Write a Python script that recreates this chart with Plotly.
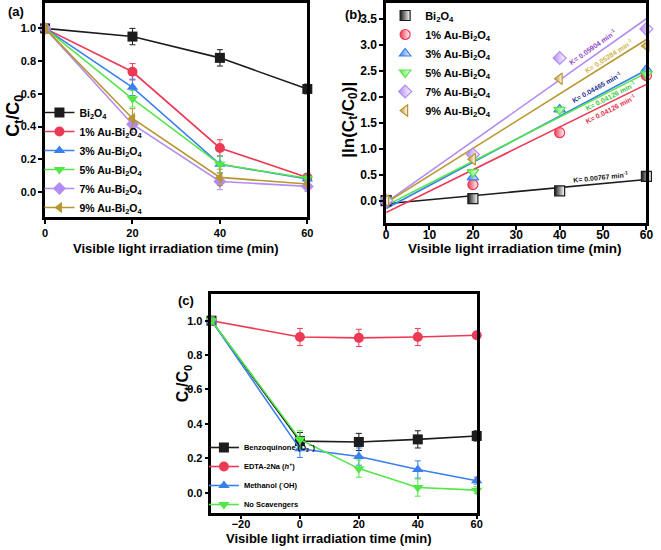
import numpy as np
import plotly.graph_objects as go

# ---------------- data ----------------
time_a = [0, 20, 40, 60]
names_a = ["Bi<sub>2</sub>O<sub>4</sub>", "1% Au-Bi<sub>2</sub>O<sub>4</sub>", "3% Au-Bi<sub>2</sub>O<sub>4</sub>",
           "5% Au-Bi<sub>2</sub>O<sub>4</sub>", "7% Au-Bi<sub>2</sub>O<sub>4</sub>", "9% Au-Bi<sub>2</sub>O<sub>4</sub>"]
ct_bi2o4 = [1.0, 0.95, 0.82, 0.63]
ct_au1 = [1.0, 0.735, 0.27, 0.09]
ct_au3 = [1.0, 0.64, 0.17, 0.08]
ct_au5 = [1.0, 0.57, 0.17, 0.085]
ct_au7 = [1.0, 0.415, 0.065, 0.035]
ct_au9 = [1.0, 0.45, 0.09, 0.05]
err_bi2o4 = [0.01, 0.05, 0.05, 0.03]
err_au1 = [0.01, 0.05, 0.05, 0.02]
err_au3 = [0.01, 0.05, 0.05, 0.02]
err_au5 = [0.01, 0.05, 0.05, 0.02]
err_au7 = [0.01, 0.05, 0.05, 0.03]
err_au9 = [0.01, 0.06, 0.05, 0.02]

time_b = [0, 20, 40, 60]
ln_bi2o4 = [0.0, 0.04, 0.19, 0.47]
ln_au1 = [0.0, 0.31, 1.31, 2.41]
ln_au3 = [0.0, 0.45, 1.76, 2.53]
ln_au5 = [0.0, 0.55, 1.75, 2.44]
ln_au7 = [0.0, 0.89, 2.75, 3.31]
ln_au9 = [0.0, 0.80, 2.35, 2.98]
k_labels = ["K= 0.00767 min<sup>-1</sup>", "K= 0.04126 min<sup>-1</sup>", "K= 0.04465 min<sup>-1</sup>",
            "K= 0.04126 min<sup>-1</sup>", "K= 0.05904 min<sup>-1</sup>", "K= 0.05284 min<sup>-1</sup>"]
k_label_x = [49.5, 51.7, 48.6, 51.7, 47.6, 51.3]
k_label_y = [0.45, 1.76, 2.19, 2.01, 2.96, 2.79]
k_label_angle = [-6, -27, -29, -27, -35, -33]

time_c = [-30, 0, 20, 40, 60]
names_c = ["Benzoquinone (O<sub>2</sub><sup>·-</sup>)", "EDTA-2Na (<i>h</i><sup>+</sup>)",
           "Methanol (<sup>·</sup>OH)", "No Scavengers"]
ct_bq = [1.0, 0.30, 0.295, 0.31, 0.33]
ct_edta = [1.0, 0.905, 0.90, 0.905, 0.915]
ct_meoh = [1.0, 0.255, 0.21, 0.135, 0.07]
ct_none = [1.0, 0.31, 0.14, 0.03, 0.015]
err_bq = [0.02, 0.05, 0.05, 0.05, 0.03]
err_edta = [0.02, 0.05, 0.05, 0.05, 0.02]
err_meoh = [0.02, 0.05, 0.05, 0.05, 0.02]
err_none = [0.02, 0.05, 0.05, 0.05, 0.02]

# ---------------- styles ----------------
colors6 = ["#1c1c1c", "#ec3a56", "#3a7ff0", "#52e646", "#b38cf2", "#b8962e"]
text_colors = ["#111111", "#e0304a", "#23308f", "#3cc83c", "#8f45c8", "#d2b44c"]
symbols6 = ["square", "circle", "triangle-up", "triangle-down", "diamond", "triangle-left"]
FONT = "Liberation Sans, Arial, sans-serif"

fig = go.Figure()

# ---------- panel (a) ----------
series_a = [ct_bi2o4, ct_au1, ct_au3, ct_au5, ct_au7, ct_au9]
errs_a = [err_bi2o4, err_au1, err_au3, err_au5, err_au7, err_au9]
for name, y, e, c, s in zip(names_a, series_a, errs_a, colors6, symbols6):
    fig.add_trace(go.Scatter(
        x=time_a, y=y, name=name, mode="lines+markers", xaxis="x", yaxis="y",
        line=dict(color=c, width=1.6), marker=dict(symbol=s, size=10, color=c),
        error_y=dict(type="data", array=e, color=c, thickness=1, width=3),
        cliponaxis=False, legend="legend"))

# ---------- panel (b) ----------
series_b = [ln_bi2o4, ln_au1, ln_au3, ln_au5, ln_au7, ln_au9]
tb = np.array(time_b, dtype=float)
for name, y, c, s in zip(names_a, series_b, colors6, symbols6):
    slope, icpt = np.polyfit(tb, np.array(y), 1)
    xf = np.array([tb.min(), tb.max()])
    fig.add_trace(go.Scatter(
        x=xf, y=slope * xf + icpt, mode="lines", xaxis="x2", yaxis="y2",
        line=dict(color=c, width=1.6), showlegend=False, cliponaxis=False, hoverinfo="skip"))
for name, y, c, s in zip(names_a, series_b, colors6, symbols6):
    fig.add_trace(go.Scatter(
        x=time_b, y=y, name=name, mode="markers", xaxis="x2", yaxis="y2",
        marker=dict(symbol=s, size=10, color=c, line=dict(color=c, width=1.2),
                    gradient=dict(type="horizontal", color="white")),
        cliponaxis=False, legend="legend2"))

# ---------- panel (c) ----------
series_c = [ct_bq, ct_edta, ct_meoh, ct_none]
errs_c = [err_bq, err_edta, err_meoh, err_none]
for name, y, e, c, s in zip(names_c, series_c, errs_c, colors6[:4], symbols6[:4]):
    fig.add_trace(go.Scatter(
        x=time_c, y=y, name=name, mode="lines+markers", xaxis="x3", yaxis="y3",
        line=dict(color=c, width=1.6), marker=dict(symbol=s, size=10, color=c),
        error_y=dict(type="data", array=e, color=c, thickness=1, width=3),
        cliponaxis=False, legend="legend3"))

W, H = 661, 550
def px(x):
    return x / W
def py(y):
    return 1 - y / H

axis_common = dict(showline=True, linewidth=2.6, linecolor="black", mirror=True,
                   ticks="outside", ticklen=4, tickwidth=2, tickcolor="black",
                   showgrid=False, zeroline=False, fixedrange=True)

fig.update_layout(
    width=W, height=H, margin=dict(l=0, r=0, t=0, b=0),
    paper_bgcolor="white", plot_bgcolor="white",
    font=dict(family=FONT, color="black"),
    xaxis=dict(domain=[px(42.7), px(309)], range=[0, 60], tickvals=[0, 20, 40, 60],
               tickfont=dict(size=11, weight="bold"), anchor="y", **axis_common),
    yaxis=dict(domain=[py(216.7), py(3)], range=[-0.15, 1.155], tickvals=[0, 0.2, 0.4, 0.6, 0.8, 1.0],
               tickformat=".1f", tickfont=dict(size=11, weight="bold"), anchor="x", **axis_common),
    xaxis2=dict(domain=[px(389), px(653.3)], range=[0, 60], dtick=10, ticklabelstandoff=-5,
                tickfont=dict(size=12, weight="bold"), anchor="y2", **axis_common),
    yaxis2=dict(domain=[py(223), py(3)], range=[-0.43, 3.81], dtick=0.5, tickformat=".1f",
                tickfont=dict(size=12, weight="bold"), anchor="x2", **axis_common),
    xaxis3=dict(domain=[px(211.7), px(481)], range=[-30, 60], tickvals=[-20, 0, 20, 40, 60],
                ticklabelstandoff=-5,
                tickfont=dict(size=11, weight="bold"), anchor="y3", **axis_common),
    yaxis3=dict(domain=[py(512.5), py(294)], range=[-0.115, 1.155], tickvals=[0, 0.2, 0.4, 0.6, 0.8, 1.0],
                tickformat=".1f", tickfont=dict(size=11, weight="bold"), anchor="x3", **axis_common),
    legend=dict(x=px(37), y=py(222), xanchor="left", yanchor="bottom", bgcolor="rgba(0,0,0,0)",
                font=dict(size=10.5, weight="bold"), itemwidth=30, tracegroupgap=0),
    legend2=dict(x=px(388), y=py(1), xanchor="left", yanchor="top", bgcolor="rgba(0,0,0,0)",
                 font=dict(size=11, weight="bold"), itemwidth=30, tracegroupgap=0),
    legend3=dict(x=px(204), y=py(519), xanchor="left", yanchor="bottom", bgcolor="rgba(0,0,0,0)",
                 font=dict(size=7.5, weight="bold"), itemwidth=30, tracegroupgap=0),
    showlegend=True,
)

ann = []
# K labels in panel (b)
for t, xk, yk, ang, c in zip(k_labels, k_label_x, k_label_y, k_label_angle, text_colors):
    ann.append(dict(x=xk, y=yk, xref="x2", yref="y2", text="<b>" + t + "</b>", showarrow=False,
                    xanchor="center", yanchor="middle", textangle=ang, font=dict(size=7, color=c)))

def paper_text(xp, yp, text, size, angle=0):
    return dict(x=px(xp), y=py(yp), xref="paper", yref="paper", text=text, showarrow=False,
                xanchor="center", yanchor="middle", textangle=angle, font=dict(size=size))

xt = "<b>Visible light irradiation time (min)</b>"
ann.append(paper_text(176, 249, xt, 13))
ann.append(paper_text(520, 248, xt, 13.5))
ann.append(paper_text(331.5, 538, xt, 13))
ann.append(paper_text(11, 116, "<b>C<sub>t</sub>/C<sub>0</sub></b>", 18, -90))
ann.append(paper_text(352, 120, "<b>|ln(C<sub>t</sub>/C<sub>0</sub>)|</b>", 17, -90))
ann.append(paper_text(183, 383, "<b>C<sub>t</sub>/C<sub>0</sub></b>", 16, -90))
ann.append(paper_text(13, 11, "<b>(a)</b>", 13))
ann.append(paper_text(356, 15, "<b>(b)</b>", 13))
ann.append(paper_text(186, 300, "<b>(c)</b>", 13))
fig.update_layout(annotations=ann)

fig.write_html("out.html")
